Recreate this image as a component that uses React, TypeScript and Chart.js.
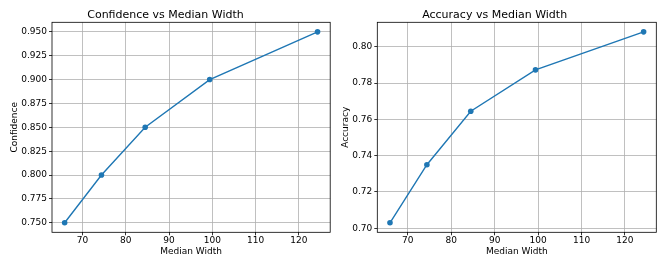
import React, { useEffect, useRef } from "react";
import { Chart, registerables } from "chart.js";

Chart.register(...registerables);

const medianWidth = [65.9, 74.4, 84.5, 99.4, 124.3];
const confidence = [0.75, 0.8, 0.85, 0.9, 0.95];
const accuracy = [0.703, 0.735, 0.7645, 0.7873, 0.8083];

const xTickLabels = ["70", "80", "90", "100", "110", "120"];
const confTickLabels = ["0.750", "0.775", "0.800", "0.825", "0.850", "0.875", "0.900", "0.925", "0.950"];
const accTickLabels = ["0.70", "0.72", "0.74", "0.76", "0.78", "0.80"];

const FONT = "'DejaVu Sans', sans-serif";
const LINE_COLOR = "#1f77b4";

function padRange(vals: number[]) {
  const lo = Math.min(...vals);
  const hi = Math.max(...vals);
  const m = (hi - lo) * 0.05;
  return { min: lo - m, max: hi + m };
}

const framePlugin = {
  id: "frame",
  afterDatasetsDraw(chart: any) {
    const { ctx, chartArea } = chart;
    ctx.save();
    ctx.strokeStyle = "#000";
    ctx.lineWidth = 0.8;
    ctx.strokeRect(chartArea.left, chartArea.top, chartArea.right - chartArea.left, chartArea.bottom - chartArea.top);
    ctx.restore();
  },
};

function makeConfig(
  title: string,
  yLabel: string,
  yVals: number[],
  yTickLabels: string[],
  yAxisWidth: number,
  rightPad: number,
  yTitlePad: number
): any {
  const xr = padRange(medianWidth);
  const yr = padRange(yVals);
  const yTickVals = yTickLabels.map((s) => parseFloat(s));
  const xTickVals = xTickLabels.map((s) => parseFloat(s));
  return {
    type: "line",
    data: {
      datasets: [
        {
          data: medianWidth.map((x, i) => ({ x, y: yVals[i] })),
          borderColor: LINE_COLOR,
          backgroundColor: LINE_COLOR,
          borderWidth: 1.4,
          pointRadius: 2.8,
          pointHoverRadius: 2.8,
          pointBorderWidth: 0,
          pointBackgroundColor: LINE_COLOR,
          tension: 0,
          fill: false,
        },
      ],
    },
    options: {
      responsive: false,
      animation: false,
      events: [],
      layout: { padding: { left: 0, right: rightPad, top: 0, bottom: 0 } },
      plugins: {
        legend: { display: false },
        tooltip: { enabled: false },
        title: {
          display: true,
          text: title,
          color: "#000",
          font: { family: FONT, size: 11, weight: "normal", lineHeight: 1.2 },
          padding: { top: 8.4, bottom: 0.7 },
        },
      },
      scales: {
        x: {
          type: "linear",
          min: xr.min,
          max: xr.max,
          afterBuildTicks: (scale: any) => {
            scale.ticks = xTickVals.map((v) => ({ value: v }));
          },
          afterFit: (scale: any) => {
            scale.height = 34.7;
          },
          ticks: {
            color: "#000",
            font: { family: FONT, size: 9 },
            padding: 0,
            maxRotation: 0,
            autoSkip: false,
            callback: (v: number) => {
              const i = xTickVals.indexOf(v);
              return i >= 0 ? xTickLabels[i] : "";
            },
          },
          grid: {
            color: "#b0b0b0",
            lineWidth: 0.8,
            tickColor: "#000",
            tickLength: 3,
            tickWidth: 0.8,
          },
          border: { display: false },
          title: {
            display: true,
            text: "Median Width",
            color: "#000",
            font: { family: FONT, size: 9 },
            padding: { top: 0, bottom: 10 },
          },
        },
        y: {
          type: "linear",
          min: yr.min,
          max: yr.max,
          afterBuildTicks: (scale: any) => {
            scale.ticks = yTickVals.map((v) => ({ value: v }));
          },
          afterFit: (scale: any) => {
            scale.width = yAxisWidth;
          },
          ticks: {
            color: "#000",
            font: { family: FONT, size: 9 },
            padding: 2,
            autoSkip: false,
            callback: (v: number) => {
              const i = yTickVals.indexOf(v);
              return i >= 0 ? yTickLabels[i] : "";
            },
          },
          grid: {
            color: "#b0b0b0",
            lineWidth: 0.8,
            tickColor: "#000",
            tickLength: 3,
            tickWidth: 0.8,
          },
          border: { display: false },
          title: {
            display: true,
            text: yLabel,
            color: "#000",
            font: { family: FONT, size: 9 },
            padding: { top: yTitlePad, bottom: 0 },
          },
        },
      },
    },
    plugins: [framePlugin],
  };
}

export default function App() {
  const leftRef = useRef<HTMLCanvasElement>(null);
  const rightRef = useRef<HTMLCanvasElement>(null);

  useEffect(() => {
    const c1 = new Chart(
      leftRef.current as HTMLCanvasElement,
      makeConfig("Confidence vs Median Width", "Confidence", confidence, confTickLabels, 52, 2, 9.6)
    );
    const c2 = new Chart(
      rightRef.current as HTMLCanvasElement,
      makeConfig("Accuracy vs Median Width", "Accuracy", accuracy, accTickLabels, 44.3, 9.7, 7.1)
    );
    return () => {
      c1.destroy();
      c2.destroy();
    };
  }, []);

  return (
    <div style={{ position: "fixed", left: 0, top: 0, width: 666, height: 267, background: "#fff" }}>
      <canvas ref={leftRef} width={333} height={267} style={{ position: "absolute", left: 0, top: 0 }} />
      <canvas ref={rightRef} width={333} height={267} style={{ position: "absolute", left: 333, top: 0 }} />
    </div>
  );
}
